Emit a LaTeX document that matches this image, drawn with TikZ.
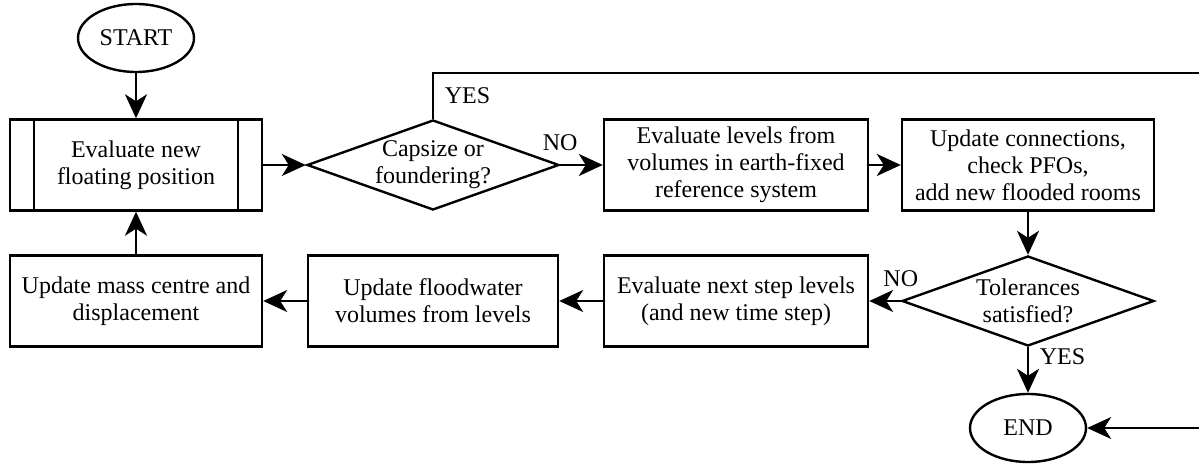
\documentclass[tikz,border=0pt]{standalone}
\usepackage{fontspec}
\setmainfont{Liberation Serif}
\usetikzlibrary{arrows.meta, positioning, shapes.geometric}

\begin{document}
\begin{tikzpicture}[x=0.5pt, y=-0.5pt, line width=1.2pt,
  font=\fontsize{12}{13.5}\selectfont,
  every node/.style={align=center},
  procbox/.style={draw, minimum width=126pt, minimum height=45.5pt, inner sep=2pt},
  decision/.style={draw, diamond, shape aspect=2.8, inner sep=0pt, minimum width=126pt, minimum height=45pt},
  terminal/.style={draw, ellipse, inner sep=0pt, minimum width=58pt, minimum height=34pt},
  flow/.style={-{Stealth[length=12pt, width=11pt, inset=3.5pt]}}]
  \useasboundingbox (0,0) rectangle (1199,464);

  % top row
  \node[terminal] (start) at (136,38) {START};
  \node[procbox] (floatpos) at (136,165) {Evaluate new\\floating position};
  \draw ([xshift=12.5pt]floatpos.north west) -- ([xshift=12.5pt]floatpos.south west);
  \draw ([xshift=-12.5pt]floatpos.north east) -- ([xshift=-12.5pt]floatpos.south east);
  \node[decision] (capsize) at (433,165) {Capsize or\\foundering?};
  \node[procbox, minimum width=132pt] (levels) at (736,165) {Evaluate levels from\\volumes in earth-fixed\\reference system};
  \node[procbox] (connect) at (1028,165) {Update connections,\\check PFOs,\\add new flooded rooms};

  % bottom row
  \node[decision] (toler) at (1028,301) {Tolerances\\satisfied?};
  \node[terminal] (end) at (1028,428) {END};
  \node[procbox, minimum width=132pt] (nextstep) at (736,301) {Evaluate next step levels\\(and new time step)};
  \node[procbox, minimum width=125pt] (floodvol) at (433,301) {Update floodwater\\volumes from levels};
  \node[procbox] (masscentre) at (136,301) {Update mass centre and\\displacement};

  \coordinate (rim) at (1203,73);

  % connectors
  \draw[flow] (start) -- (floatpos);
  \draw[flow] (floatpos) -- (capsize);
  \draw[flow] (capsize) -- node[pos=0, above, yshift=3pt]{NO} (levels);
  \draw[flow] (capsize.north) |- node[pos=0.25, right, xshift=2pt]{YES} (rim) |- (end.east);
  \draw[flow] (levels) -- (connect);
  \draw[flow] (connect) -- (toler);
  \draw[flow] (toler) -- node[pos=0.2, right, xshift=2pt]{YES} (end);
  \draw[flow] (toler) -- node[pos=0, above, yshift=3pt]{NO} (nextstep);
  \draw[flow] (nextstep) -- (floodvol);
  \draw[flow] (floodvol) -- (masscentre);
  \draw[flow] (masscentre) -- (floatpos);
\end{tikzpicture}
\end{document}
